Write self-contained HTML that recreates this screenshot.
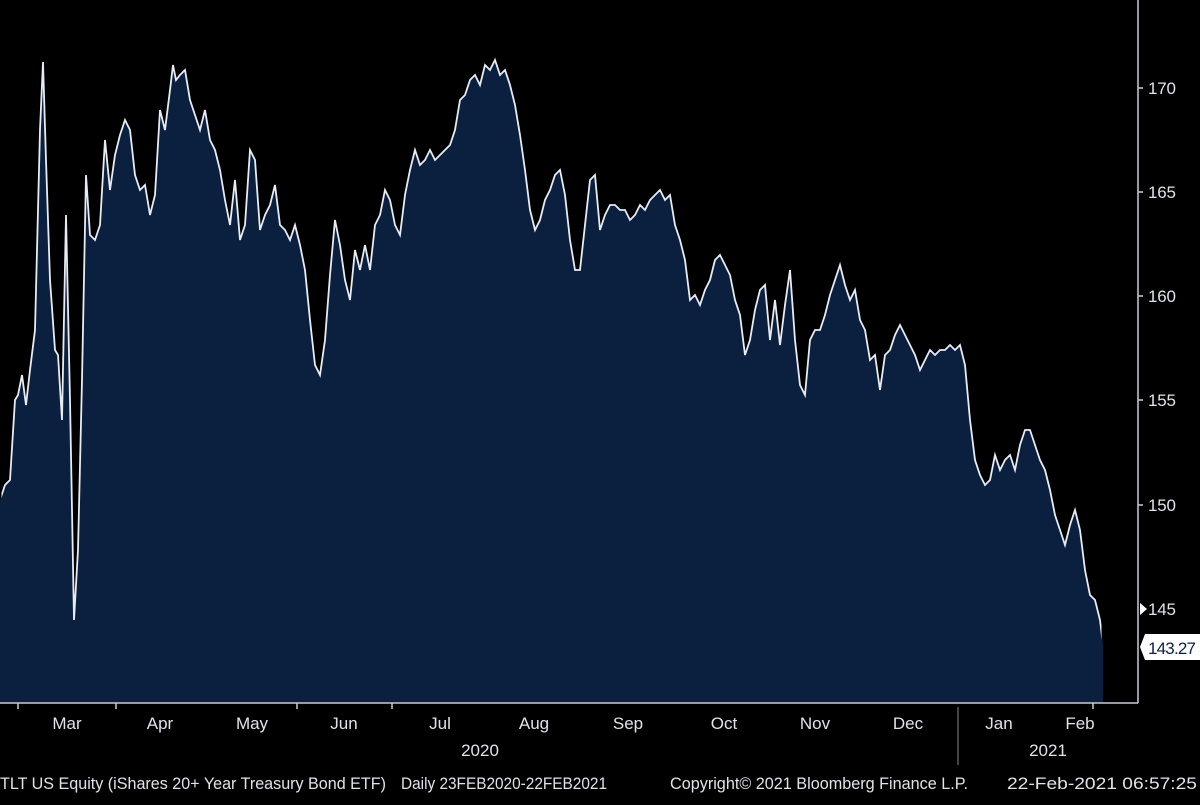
<!DOCTYPE html><html><head><style>body{margin:0;background:#000}text{font-family:"Liberation Sans",sans-serif;fill:#dfe3ea;font-size:17px}</style></head><body>
<svg width="1200" height="800" viewBox="0 0 1200 800" xmlns="http://www.w3.org/2000/svg">
<defs><path id="ln" d="M0,500 L5,485 L10,480 L15,400 L18,395 L22,375 L26,405 L30,370 L35,330 L40,130 L43,62 L46,160 L50,280 L55,350 L58,355 L62,420 L66,215 L70,400 L74,620 L78,550 L82,380 L86,175 L90,235 L95,240 L100,225 L105,140 L110,190 L115,155 L120,135 L125,120 L130,130 L135,175 L140,190 L145,185 L150,215 L155,195 L160,110 L165,130 L170,90 L173,65 L176,80 L180,75 L185,70 L190,100 L195,115 L200,130 L205,110 L210,140 L215,150 L220,170 L225,200 L230,225 L235,180 L240,240 L245,225 L250,150 L255,160 L260,230 L265,215 L270,205 L275,185 L280,225 L285,230 L290,240 L295,225 L300,245 L305,270 L310,320 L315,365 L320,375 L325,340 L330,275 L335,220 L340,245 L345,280 L350,300 L355,250 L360,270 L365,245 L370,270 L375,225 L380,215 L385,190 L390,200 L395,225 L400,235 L405,195 L410,170 L415,150 L420,165 L425,160 L430,150 L435,160 L440,155 L445,150 L450,145 L455,130 L460,100 L465,95 L470,80 L475,75 L480,85 L485,65 L490,70 L495,60 L500,75 L505,70 L510,85 L515,105 L520,135 L525,170 L530,210 L535,230 L540,220 L545,200 L550,190 L555,175 L560,170 L565,195 L570,240 L575,270 L580,270 L585,225 L590,180 L595,175 L600,230 L605,215 L610,205 L615,205 L620,210 L625,210 L630,220 L635,215 L640,205 L645,210 L650,200 L655,195 L660,190 L665,200 L670,195 L675,225 L680,240 L685,260 L690,300 L695,295 L700,305 L705,290 L710,280 L715,260 L720,255 L725,265 L730,275 L735,300 L740,315 L745,355 L750,340 L755,310 L760,290 L765,285 L770,340 L775,300 L780,345 L785,305 L790,270 L795,340 L800,385 L805,395 L810,340 L815,330 L820,330 L825,315 L830,295 L835,280 L840,265 L845,285 L850,300 L855,290 L860,320 L865,330 L870,360 L875,355 L880,390 L885,355 L890,350 L895,335 L900,325 L905,335 L910,345 L915,355 L920,370 L925,360 L930,350 L935,355 L940,350 L945,350 L950,345 L955,350 L960,345 L965,365 L970,420 L975,460 L980,475 L985,485 L990,480 L995,455 L1000,470 L1005,460 L1010,455 L1015,470 L1020,445 L1025,430 L1030,430 L1035,445 L1040,460 L1045,470 L1050,490 L1055,515 L1060,530 L1065,545 L1070,525 L1075,510 L1080,530 L1085,570 L1090,595 L1095,600 L1100,620 L1103,645 L1103,703 L0,703 Z"/></defs>
<rect width="1200" height="800" fill="#000"/>
<use href="#ln" fill="#0a203e"/>
<clipPath id="c"><rect x="1.5" y="0" width="1100" height="700"/></clipPath>
<use href="#ln" fill="none" stroke="#e8ecf2" stroke-width="1.8" clip-path="url(#c)"/>
<line x1="0" y1="703" x2="1138" y2="703" stroke="#c8ccd4" stroke-width="1.5"/>
<line x1="1138" y1="0" x2="1138" y2="703" stroke="#c8ccd4" stroke-width="1.5"/>
<g stroke="#c8ccd4" stroke-width="1.5">
<line x1="18" y1="703" x2="18" y2="709"/><line x1="116" y1="703" x2="116" y2="709"/><line x1="297" y1="703" x2="297" y2="709"/><line x1="392" y1="703" x2="392" y2="709"/><line x1="1093" y1="703" x2="1093" y2="709"/>
<line x1="1138" y1="88" x2="1143" y2="88"/><line x1="1138" y1="192" x2="1143" y2="192"/><line x1="1138" y1="296" x2="1143" y2="296"/><line x1="1138" y1="400" x2="1143" y2="400"/><line x1="1138" y1="505" x2="1143" y2="505"/>
</g>
<g>
<text x="1148" y="94" textLength="28">170</text><text x="1148" y="198" textLength="28">165</text><text x="1148" y="302" textLength="28">160</text><text x="1148" y="406" textLength="28">155</text><text x="1148" y="511" textLength="28">150</text><text x="1148" y="615" textLength="28">145</text>
</g>
<polygon points="1147,609 1140,603 1140,615" fill="#fff"/>
<path d="M1145,634 H1200 V660 H1145 L1140,647 Z" fill="#fff"/>
<text x="1148" y="654" style="fill:#0b2240" textLength="48">143.27</text>
<g text-anchor="middle">
<text x="67" y="729">Mar</text><text x="160" y="729">Apr</text><text x="252" y="729">May</text><text x="344" y="729">Jun</text><text x="440" y="729">Jul</text><text x="534" y="729">Aug</text><text x="628" y="729">Sep</text><text x="724" y="729">Oct</text><text x="815" y="729">Nov</text><text x="908" y="729">Dec</text><text x="999" y="729">Jan</text><text x="1080" y="729">Feb</text>
<text x="480" y="756">2020</text><text x="1048" y="756">2021</text>
</g>
<line x1="958" y1="707" x2="958" y2="765" stroke="#888" stroke-width="1"/>
<text x="0" y="789" textLength="386" lengthAdjust="spacingAndGlyphs">TLT US Equity (iShares 20+ Year Treasury Bond ETF)</text>
<text x="401" y="789" textLength="206" lengthAdjust="spacingAndGlyphs">Daily 23FEB2020-22FEB2021</text>
<text x="670" y="789" textLength="298" lengthAdjust="spacingAndGlyphs">Copyright© 2021 Bloomberg Finance L.P.</text>
<text x="1007" y="789" textLength="190" lengthAdjust="spacingAndGlyphs">22-Feb-2021 06:57:25</text>
</svg></body></html>
